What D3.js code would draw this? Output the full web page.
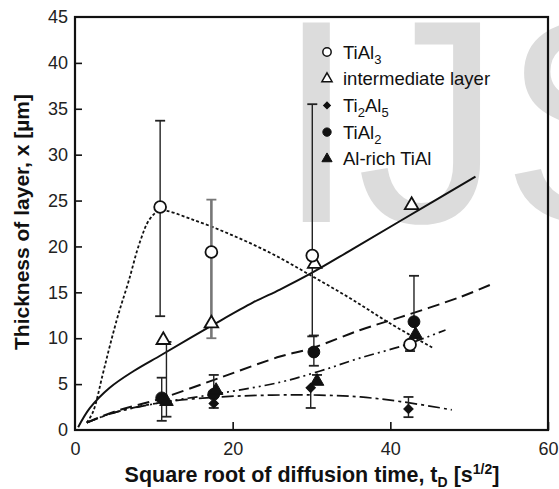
<!DOCTYPE html>
<html>
<head>
<meta charset="utf-8">
<script src="https://cdn.jsdelivr.net/npm/d3@7"></script>
<style>
  html, body { margin: 0; padding: 0; background: #fff; }
  svg { display: block; }
  text { font-family: "Liberation Sans", Arial, Helvetica, sans-serif; }
</style>
</head>
<body>
<svg id="chart" width="559" height="489"></svg>
<script>
// ---- measured points (x = sqrt(t) [s^1/2], y = thickness [µm]) ----
const tiAl3X   = [10.8, 17.3, 30.1, 42.5];
const tiAl3Y   = [24.3, 19.4, 19.0, 9.3];
const tiAl3Lo  = [12.4, 10.0, 10.2, 8.6];
const tiAl3Hi  = [33.7, 25.1, 35.5, null];

const interX   = [11.2, 17.3, 30.4, 42.7];
const interY   = [9.8, 11.6, 18.1, 24.5];

const ti2Al5X  = [11.0, 17.6, 29.9, 42.3];
const ti2Al5Y  = [3.3, 2.9, 4.6, 2.3];
const ti2Al5Lo = [null, 2.4, 2.4, 1.4];
const ti2Al5Hi = [null, null, null, 3.6];

const tiAl2X   = [11.0, 17.6, 30.3, 43.0];
const tiAl2Y   = [3.5, 3.9, 8.5, 11.8];
const tiAl2Lo  = [1.0, null, 7.0, null];
const tiAl2Hi  = [5.7, 6.0, 10.3, 16.8];

const alRichX  = [11.6, 17.9, 30.7, 43.2];
const alRichY  = [3.1, 4.3, 5.3, 10.4];
const alRichLo = [1.45, null, null, null];
const alRichHi = [9.6, null, 6.0, null];

// ---- fitted growth curves ----
const fitTiAl3 = [[1.5,0.8],[2.3,2.0],[3.5,6.0],[4.4,9.1],[5.5,12.6],[6.8,16.2],[8.2,20.4],[9.5,23.0],[10.8,23.9],[15,22.9],[20,21.2],[25,19.2],[30,16.8],[35,14.3],[40,11.6],[45.5,8.9]];
const fitInter = [[0.4,0.3],[1.9,2.4],[4.4,4.6],[7.4,6.4],[11,8.2],[17.6,11.5],[22.6,13.9],[26,15.3],[29.8,17.0],[35,19.6],[41.3,22.8],[50.8,27.6]];
const fitTiAl2 = [[1.5,0.8],[5,2.0],[10.8,3.4],[18.4,5.7],[26,8.0],[30,8.9],[36.2,10.9],[41.3,12.3],[48.9,14.5],[52.9,15.9]];
const fitAlRich = [[1.5,0.8],[5,1.9],[11,3.0],[18.4,4.0],[26,5.2],[31,6.4],[36,7.8],[42,9.3],[47,10.9]];
const fitTi2Al5 = [[1.5,0.8],[5,1.9],[11,3.0],[18.4,3.6],[25,3.8],[31,3.8],[36.2,3.6],[41.3,3.1],[47.8,2.2]];

const xTicks = [0, 20, 40, 60];
const yTicks = [0, 5, 10, 15, 20, 25, 30, 35, 40, 45];

// ---- layout ----
const svg = d3.select("#chart");
const x = d3.scaleLinear().domain([0, 60]).range([75, 548]);
const y = d3.scaleLinear().domain([0, 45]).range([430, 17]);

// watermark
svg.append("text")
  .attr("x", 276).attr("y", 222)
  .attr("font-size", 290)
  .attr("fill", "#dcdcdc")
  .text("IJS");

// fitted curves
const line = d3.line().x(d => x(d[0])).y(d => y(d[1])).curve(d3.curveCatmullRom.alpha(0.5));
const curves = [
  { data: fitTiAl3,  dash: "3,2.2",           w: 1.8 },
  { data: fitInter,  dash: null,              w: 2.0 },
  { data: fitTiAl2,  dash: "12,6",            w: 2.0 },
  { data: fitAlRich, dash: "10,4,2,4,2,4",    w: 1.7 },
  { data: fitTi2Al5, dash: "12,4,3,4",        w: 1.7 }
];
svg.append("g").selectAll("path").data(curves).join("path")
  .attr("d", d => line(d.data))
  .attr("fill", "none")
  .attr("stroke", "#111")
  .attr("stroke-width", d => d.w)
  .attr("stroke-dasharray", d => d.dash);

// error bars
function errorBars(xs, ys, lo, hi, color, width) {
  const g = svg.append("g").attr("stroke", color).attr("stroke-width", width);
  xs.forEach((xv, i) => {
    const a = lo[i] == null ? ys[i] : lo[i];
    const b = hi[i] == null ? ys[i] : hi[i];
    g.append("line").attr("x1", x(xv)).attr("x2", x(xv)).attr("y1", y(a)).attr("y2", y(b));
    [lo[i], hi[i]].forEach(v => {
      if (v != null) g.append("line")
        .attr("x1", x(xv) - 5).attr("x2", x(xv) + 5)
        .attr("y1", y(v)).attr("y2", y(v)).attr("stroke-width", 1.8);
    });
  });
}
errorBars([tiAl3X[0], tiAl3X[2], tiAl3X[3]], [tiAl3Y[0], tiAl3Y[2], tiAl3Y[3]],
          [tiAl3Lo[0], tiAl3Lo[2], tiAl3Lo[3]], [tiAl3Hi[0], tiAl3Hi[2], tiAl3Hi[3]], "#222", 1.4);
errorBars([tiAl3X[1]], [tiAl3Y[1]], [tiAl3Lo[1]], [tiAl3Hi[1]], "#777", 2.6);
errorBars(ti2Al5X, ti2Al5Y, ti2Al5Lo, ti2Al5Hi, "#222", 1.4);
errorBars(tiAl2X, tiAl2Y, tiAl2Lo, tiAl2Hi, "#222", 1.4);
errorBars(alRichX, alRichY, alRichLo, alRichHi, "#222", 1.4);

// marker shapes (diamond = square turned 45°)
const sym = {
  circle:   { gen: d3.symbol(d3.symbolCircle, 110), rot: 0 },
  triangle: { gen: d3.symbol(d3.symbolTriangle, 80), rot: 0 },
  diamond:  { gen: d3.symbol(d3.symbolSquare, 44), rot: 45 }
};
function markers(xs, ys, shape, filled) {
  svg.append("g").selectAll("path").data(xs.map((v, i) => [v, ys[i]])).join("path")
    .attr("transform", d => `translate(${x(d[0])},${y(d[1])}) rotate(${sym[shape].rot})`)
    .attr("d", sym[shape].gen())
    .attr("fill", filled ? "#111" : "#fff")
    .attr("stroke", "#111")
    .attr("stroke-width", filled ? 1 : 1.8);
}
markers(interX, interY, "triangle", false);
markers(tiAl3X, tiAl3Y, "circle", false);
markers(tiAl2X, tiAl2Y, "circle", true);
markers(ti2Al5X, ti2Al5Y, "diamond", true);
markers(alRichX, alRichY, "triangle", true);

// frame
svg.append("rect")
  .attr("x", x(0)).attr("y", y(45))
  .attr("width", x(60) - x(0)).attr("height", y(0) - y(45))
  .attr("fill", "none").attr("stroke", "#111").attr("stroke-width", 2.2);

// axes with inward ticks
const xAxis = svg.append("g").attr("transform", `translate(0,${y(0)})`)
  .call(d3.axisBottom(x).tickValues(xTicks).tickSize(-8).tickPadding(12).tickFormat(d3.format("d")));
const yAxis = svg.append("g").attr("transform", `translate(${x(0)},0)`)
  .call(d3.axisLeft(y).tickValues(yTicks).tickSize(-7).tickPadding(7).tickFormat(d3.format("d")));
[xAxis, yAxis].forEach(a => {
  a.select(".domain").remove();
  a.selectAll(".tick line").attr("stroke", "#111").attr("stroke-width", 1.6);
  a.selectAll(".tick text").attr("font-size", 18).attr("fill", "#222")
    .attr("font-family", "'Liberation Sans', Arial, sans-serif");
});
xAxis.selectAll(".tick").filter(d => d === 0).select("line").remove();
yAxis.selectAll(".tick").filter(d => d === 0 || d === 45).select("line").remove();

// axis titles
const xt = svg.append("text").attr("x", 312).attr("y", 482)
  .attr("text-anchor", "middle").attr("font-size", 21.5).attr("font-weight", "bold").attr("fill", "#111");
xt.append("tspan").text("Square root of diffusion time, t");
xt.append("tspan").attr("font-size", 14).attr("dy", 5).text("D");
xt.append("tspan").attr("dy", -5).text(" [s");
xt.append("tspan").attr("font-size", 14).attr("dy", -8).text("1/2");
xt.append("tspan").attr("dy", 8).text("]");

svg.append("text")
  .attr("transform", "translate(29,222) rotate(-90)")
  .attr("text-anchor", "middle").attr("font-size", 21).attr("font-weight", "bold").attr("fill", "#111")
  .text("Thickness of layer, x [µm]");

// legend
const legendItems = [
  { shape: "circle",   filled: false, parts: [["TiAl", 0], ["3", 1]] },
  { shape: "triangle", filled: false, parts: [["intermediate layer", 0]] },
  { shape: "diamond",  filled: true,  parts: [["Ti", 0], ["2", 1], ["Al", 0], ["5", 1]] },
  { shape: "circle",   filled: true,  parts: [["TiAl", 0], ["2", 1]] },
  { shape: "triangle", filled: true,  parts: [["Al-rich TiAl", 0]] }
];
const legSym = {
  circle:   { gen: d3.symbol(d3.symbolCircle, 55), rot: 0 },
  triangle: { gen: d3.symbol(d3.symbolTriangle, 45), rot: 0 },
  diamond:  { gen: d3.symbol(d3.symbolSquare, 24), rot: 45 }
};
const leg = svg.append("g");
legendItems.forEach((it, i) => {
  const cy = 52 + i * 26.7;
  leg.append("path")
    .attr("transform", `translate(327,${cy}) rotate(${legSym[it.shape].rot})`)
    .attr("d", legSym[it.shape].gen())
    .attr("fill", it.filled ? "#111" : "#fff")
    .attr("stroke", "#111").attr("stroke-width", it.filled ? 1 : 1.5);
  const t = leg.append("text").attr("x", 343).attr("y", cy + 6.5)
    .attr("font-size", 18.5).attr("fill", "#111");
  let sub = 0;
  it.parts.forEach(([s, isSub]) => {
    const dy = isSub ? 5 - sub : -sub;
    sub = isSub ? 5 : 0;
    t.append("tspan").attr("dy", dy).attr("font-size", isSub ? 13 : 18.5).text(s);
  });
});
</script>
</body>
</html>
